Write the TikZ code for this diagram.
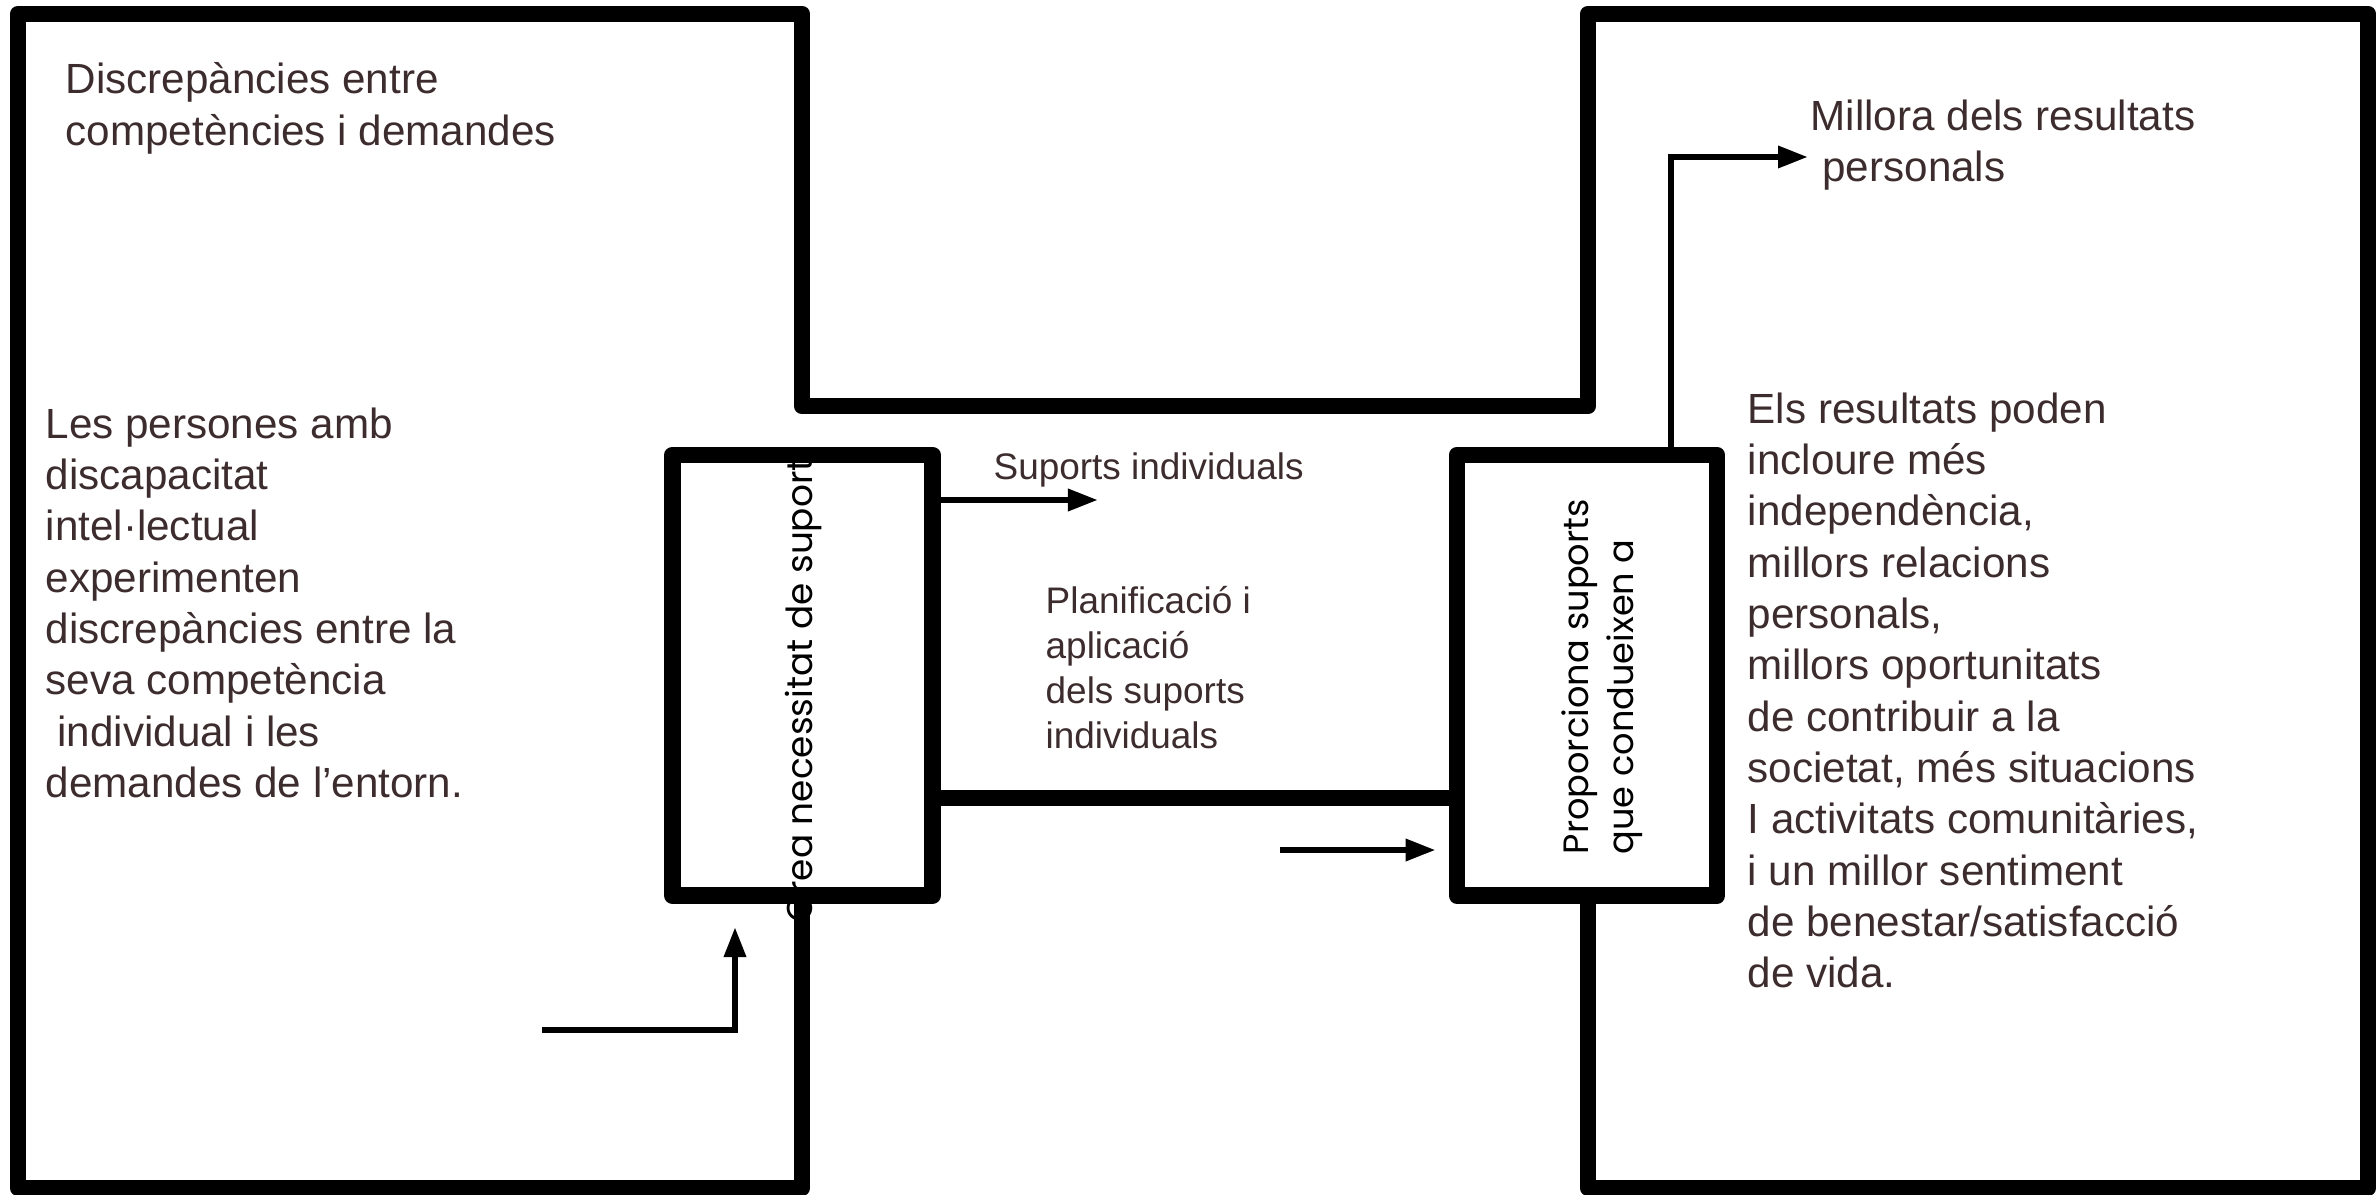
\documentclass[tikz,border=0pt]{standalone}
\usepackage{fontspec}
\setmainfont{Liberation Sans}
\newfontfamily\geofont{Poppins}
\usetikzlibrary{arrows.meta}

\definecolor{txtbrown}{RGB}{60,44,45}
\newcommand{\txtlines}[1]{\begin{tabular}[t]{@{}l@{}}#1\end{tabular}}

\tikzset{
    frame/.style={draw=black,line width=4.7pt,line join=round},
    smallbox/.style={frame,rectangle,minimum width=2.6cm,minimum height=4.405cm,inner sep=0pt},
    arrowline/.style={draw=black,line width=1.8pt,-{Triangle[length=0.3cm,width=0.21cm]}},
    bigtext/.style={anchor=base west,inner sep=0pt,text=txtbrown,font=\fontsize{12}{14.6}\selectfont},
    smalltext/.style={anchor=base west,inner sep=0pt,text=txtbrown,font=\fontsize{10.5}{12.8}\selectfont},
    sidetext/.style={anchor=base west,inner sep=0pt,rotate=90,font=\geofont\fontsize{10}{12}\selectfont}
}

\begin{document}
\begin{tikzpicture}[x=0.01cm,y=-0.01cm]
    \useasboundingbox (0,0) rectangle (2376,1194);

    % vertical labels first, the boxes are drawn over them
    \begin{scope}
        \clip (600,462) rectangle (1000,1000);
        \node[sidetext,font=\geofont\fontsize{10.2}{12}\selectfont] (crealabel) at (812,923) {Crea necessitat de suports};
    \end{scope}
    \node[sidetext] (proplabel) at (1588,855) {Proporciona suports};
    \node[sidetext] (quelabel) at (1633,855) {que condueixen a};

    % frames
    \draw[frame] (802,895) -- (802,1188) -- (18,1188) -- (18,14) -- (802,14) -- (802,406)
        -- (1588,406) -- (1588,14) -- (2368,14) -- (2368,1188) -- (1588,1188) -- (1588,895);
    \node[smallbox] (needbox) at (802.5,675.25) {};
    \node[smallbox] (givebox) at (1587,675.25) {};
    \draw[frame] (needbox.east |- 0,798) -- (givebox.west |- 0,798);

    % texts
    \begin{scope}[every node/.style={bigtext}]
        \node (discr) at (65,94) {\txtlines{Discrepàncies entre\\competències i demandes}};
        \node (persones) at (45,438) {\txtlines{Les persones amb\\discapacitat\\intel·lectual\\experimenten\\discrepàncies entre la\\seva competència\\ \ individual i les\\demandes de l’entorn.}};
        \node (millora) at (1810,130) {\txtlines{Millora dels resultats\\ \ personals}};
        \node (resultats) at (1747,423) {\txtlines{Els resultats poden\\incloure més\\independència,\\millors relacions\\personals,\\millors oportunitats\\de contribuir a la\\societat, més situacions\\I activitats comunitàries,\\i un millor sentiment\\de benestar/satisfacció\\de vida.}};
    \end{scope}
    \begin{scope}[every node/.style={smalltext}]
        \node (suports) at (993,479) {Suports individuals};
        \node (planif) at (1045,613) {\txtlines{Planificació i\\aplicació\\dels suports\\individuals}};
    \end{scope}

    % arrows
    \coordinate (suptip) at (1098,500);
    \coordinate (lowstart) at (1280,850);
    \coordinate (lstart) at (542,1030);
    \coordinate (ltip) at (735,927);
    \coordinate (miltip) at (1808,157);

    \draw[arrowline] (needbox.east |- suptip) -- (suptip);
    \draw[arrowline,shorten >=0.13cm] (lowstart) -- (givebox.west |- lowstart);
    \draw[arrowline] (lstart) -| (ltip);
    \draw[arrowline] (givebox.north -| 1671,0) |- (miltip);
\end{tikzpicture}
\end{document}
